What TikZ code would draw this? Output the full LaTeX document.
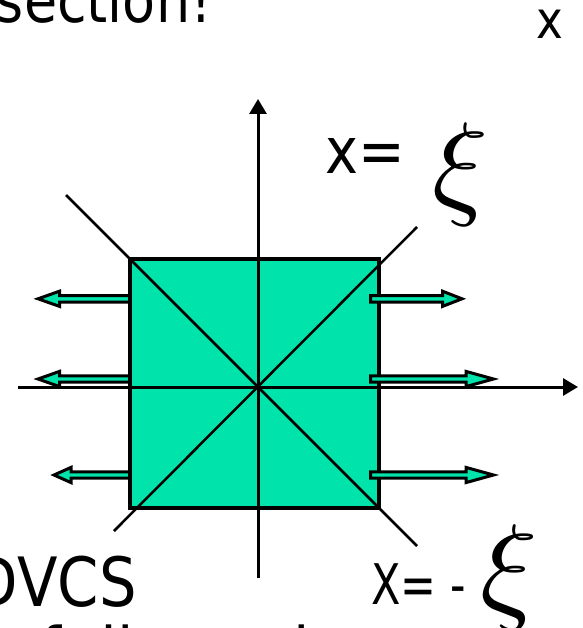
\documentclass[tikz,border=0pt]{standalone}
\usepackage{fontspec}
\newfontfamily\tah[FakeStretch=0.87]{DejaVu Sans}
\usetikzlibrary{arrows.meta}
\definecolor{sqgreen}{RGB}{0,227,170}
\newcommand\blockarr[4]{% start x, head base x, tip x, y
  \draw[barrow] (#1,#4-3.2) -- (#2,#4-3.2) -- (#2,#4-7.6) -- (#3,#4) -- (#2,#4+7.6) -- (#2,#4+3.2) -- (#1,#4+3.2) -- cycle;}
\begin{document}
\begin{tikzpicture}[x=1pt,y=-1pt,
  axis/.style={line width=3pt, -{Triangle[length=15pt,width=17pt]}},
  diag/.style={line width=2.5pt},
  barrow/.style={draw=black, fill=sqgreen, line width=3pt, miter limit=10},
  txt/.style={inner sep=0pt, font=\tah}]
\useasboundingbox (0,0) rectangle (582,628);

% left arrows (under the square)
\blockarr{133}{59.5}{38}{298.8}
\blockarr{133}{59.5}{38}{379}
\blockarr{133}{71}{54}{475}

% square
\node[draw, fill=sqgreen, line width=3.5pt, inner sep=0pt, outer sep=0pt,
      minimum width=249pt, minimum height=249pt] (sq) at (254.25,383.5) {};

% diagonals
\coordinate (d1) at (66,195);
\coordinate (d2) at (417,546);
\coordinate (d3) at (417,227);
\coordinate (d4) at (114,531);
\draw[diag] (d1) -- (d2);
\draw[diag] (d3) -- (d4);

% axes
\coordinate (xl) at (18,387);
\coordinate (xr) at (578,387);
\coordinate (yb) at (258,578);
\coordinate (yt) at (258,99);
\draw[axis] (xl) -- (xr);
\draw[axis] (yb) -- (yt);

% right arrows (over the square)
\blockarr{370.5}{442.5}{462}{298.8}
\blockarr{370.5}{466}{493.5}{379}
\blockarr{370.5}{466}{493.5}{475}

% texts
\node[txt, anchor=base east, font=\tah\fontsize{62}{62}\selectfont] (t1) at (212,23) {section!};
\node[txt, anchor=base west, font=\tah\fontsize{52}{52}\selectfont] (t2) at (536,39) {x};
\node[txt, anchor=base west, font=\tah\fontsize{64}{64}\selectfont] (t3) at (325,174) {x=};
\node[inner sep=0pt] (xi1) at (461,175) {\scalebox{11.6}{$\xi$}};
\node[txt, anchor=base west, font=\tah\fontsize{56}{56}\selectfont] (t4) at (371,604) {\scalebox{0.88}[1]{X= -}};
\node[inner sep=0pt] (xi2) at (509,578) {\scalebox{11.9}{$\xi$}};
\node[txt, anchor=base east, font=\tah\fontsize{68}{68}\selectfont] (t5) at (137,606) {DVCS};
\node[txt, anchor=base west, font=\tah\fontsize{68}{68}\selectfont] (t6) at (4,676) {of dispersion};
\end{tikzpicture}
\end{document}
